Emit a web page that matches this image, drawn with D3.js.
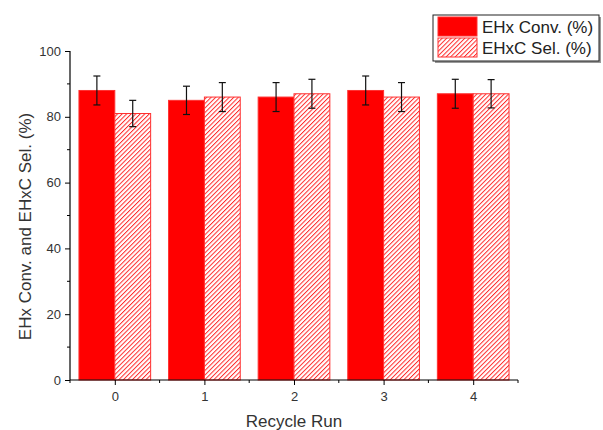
<!DOCTYPE html>
<html><head><meta charset="utf-8">
<script src="https://cdn.jsdelivr.net/npm/d3@7"></script>
<style>body{margin:0;background:#fff}text{font-family:"Liberation Sans",Arial,sans-serif}</style>
</head><body><svg id="c" width="603" height="430"></svg>
<script>
const categories = ["0","1","2","3","4"];
const convValues = [88, 85, 86, 88, 87];
const convErrors = [4.4, 4.3, 4.4, 4.4, 4.4];
const selValues = [81, 86, 87, 86, 87];
const selErrors = [4.0, 4.4, 4.4, 4.4, 4.3];
const seriesNames = ["EHx Conv. (%)", "EHxC Sel. (%)"];
const yTicks = [0, 20, 40, 60, 80, 100];

const svg = d3.select("#c");
const x0 = 70, x1 = 518, yTop = 51, yBot = 380;

const defs = svg.append("defs");
const hs = 3.2;
const pat = defs.append("pattern").attr("id","hatch").attr("patternUnits","userSpaceOnUse")
  .attr("width",hs).attr("height",hs).attr("patternTransform","rotate(45)");
pat.append("rect").attr("width",hs).attr("height",hs).attr("fill","#fff");
pat.append("line").attr("x1",0.5).attr("y1",0).attr("x2",0.5).attr("y2",hs).attr("stroke","#ff2a2a").attr("stroke-width",1);

const x = d3.scaleLinear().domain([-0.5, 4.5]).range([x0, x1]);
const y = d3.scaleLinear().domain([0, 100]).range([yBot, yTop]);
const bw = (x(1)-x(0))*0.4;

const series = [
  {vals: convValues, errs: convErrors, fill: "#ff0000", off: -1},
  {vals: selValues, errs: selErrors, fill: "url(#hatch)", off: 0}
];

series.forEach(s => {
  const g = svg.append("g");
  g.selectAll("rect").data(categories).join("rect")
    .attr("x", (d,i) => x(i) + s.off*bw)
    .attr("y", (d,i) => y(s.vals[i]))
    .attr("width", bw)
    .attr("height", (d,i) => y(0) - y(s.vals[i]))
    .attr("fill", s.fill)
    .attr("stroke", "#ff3030").attr("stroke-width", 1);
});
series.forEach(s => {
  const g = svg.append("g").attr("stroke","#111").attr("stroke-width",1.2);
  categories.forEach((d,i) => {
    const cx = x(i) + s.off*bw + bw/2;
    const hi = y(s.vals[i]+s.errs[i]), lo = y(s.vals[i]-s.errs[i]);
    g.append("line").attr("x1",cx).attr("x2",cx).attr("y1",hi).attr("y2",lo);
    g.append("line").attr("x1",cx-3.5).attr("x2",cx+3.5).attr("y1",hi).attr("y2",hi);
    g.append("line").attr("x1",cx-3.5).attr("x2",cx+3.5).attr("y1",lo).attr("y2",lo);
  });
});

// Y axis
const yAxis = d3.axisLeft(y).tickValues(yTicks).tickSize(5).tickPadding(4);
const gy = svg.append("g").attr("transform",`translate(${x0},0)`).call(yAxis);
const yMinor = d3.range(10, 100, 20);
gy.selectAll(".minor").data(yMinor).join("line").attr("class","minor")
  .attr("x1",0).attr("x2",-3).attr("y1",d=>y(d)).attr("y2",d=>y(d)).attr("stroke","#000");
// X axis
const xAxis = d3.axisBottom(x).tickValues([0,1,2,3,4]).tickFormat((d)=>categories[d]).tickSize(5).tickPadding(7);
const gx = svg.append("g").attr("transform",`translate(0,${yBot})`).call(xAxis);
const xMinor = [-0.5,0.5,1.5,2.5,3.5,4.5];
gx.selectAll(".minor").data(xMinor).join("line").attr("class","minor")
  .attr("x1",d=>x(d)).attr("x2",d=>x(d)).attr("y1",0).attr("y2",3).attr("stroke","#000");
[gx, gy].forEach(g => {
  g.select(".domain").attr("stroke","#000").attr("stroke-width",1.2);
  g.selectAll(".tick line").attr("stroke","#000");
  g.selectAll(".tick text").attr("font-size",13).attr("fill","#333").attr("font-family","Liberation Sans, Arial, sans-serif");
});
gx.select(".domain").attr("d", `M${x0},0H${x1}`);
gy.select(".domain").attr("d", `M0,${yBot}V${yTop}`);

svg.append("text").attr("x", (x0+x1)/2).attr("y", 427).attr("text-anchor","middle")
  .attr("font-size",17).attr("fill","#333").text("Recycle Run");
svg.append("text").attr("transform",`translate(31,${(yTop+yBot)/2+11}) rotate(-90)`).attr("text-anchor","middle")
  .attr("font-size",17).attr("fill","#333").text("EHx Conv. and EHxC Sel. (%)");

// Legend
const lg = svg.append("g");
lg.append("rect").attr("x",435).attr("y",17).attr("width",166).attr("height",46).attr("fill","#999");
lg.append("rect").attr("x",433).attr("y",15).attr("width",166).attr("height",46).attr("fill","#fff").attr("stroke","#222").attr("stroke-width",1);
const lfills = ["#ff0000","url(#hatch)"];
seriesNames.forEach((n,i) => {
  lg.append("rect").attr("x",438).attr("y",17+i*21).attr("width",39).attr("height",19)
    .attr("fill",lfills[i]).attr("stroke","#ff3030");
  lg.append("text").attr("x",482).attr("y",33+i*21).attr("font-size",17).attr("fill","#222").text(n);
});
</script></body></html>
